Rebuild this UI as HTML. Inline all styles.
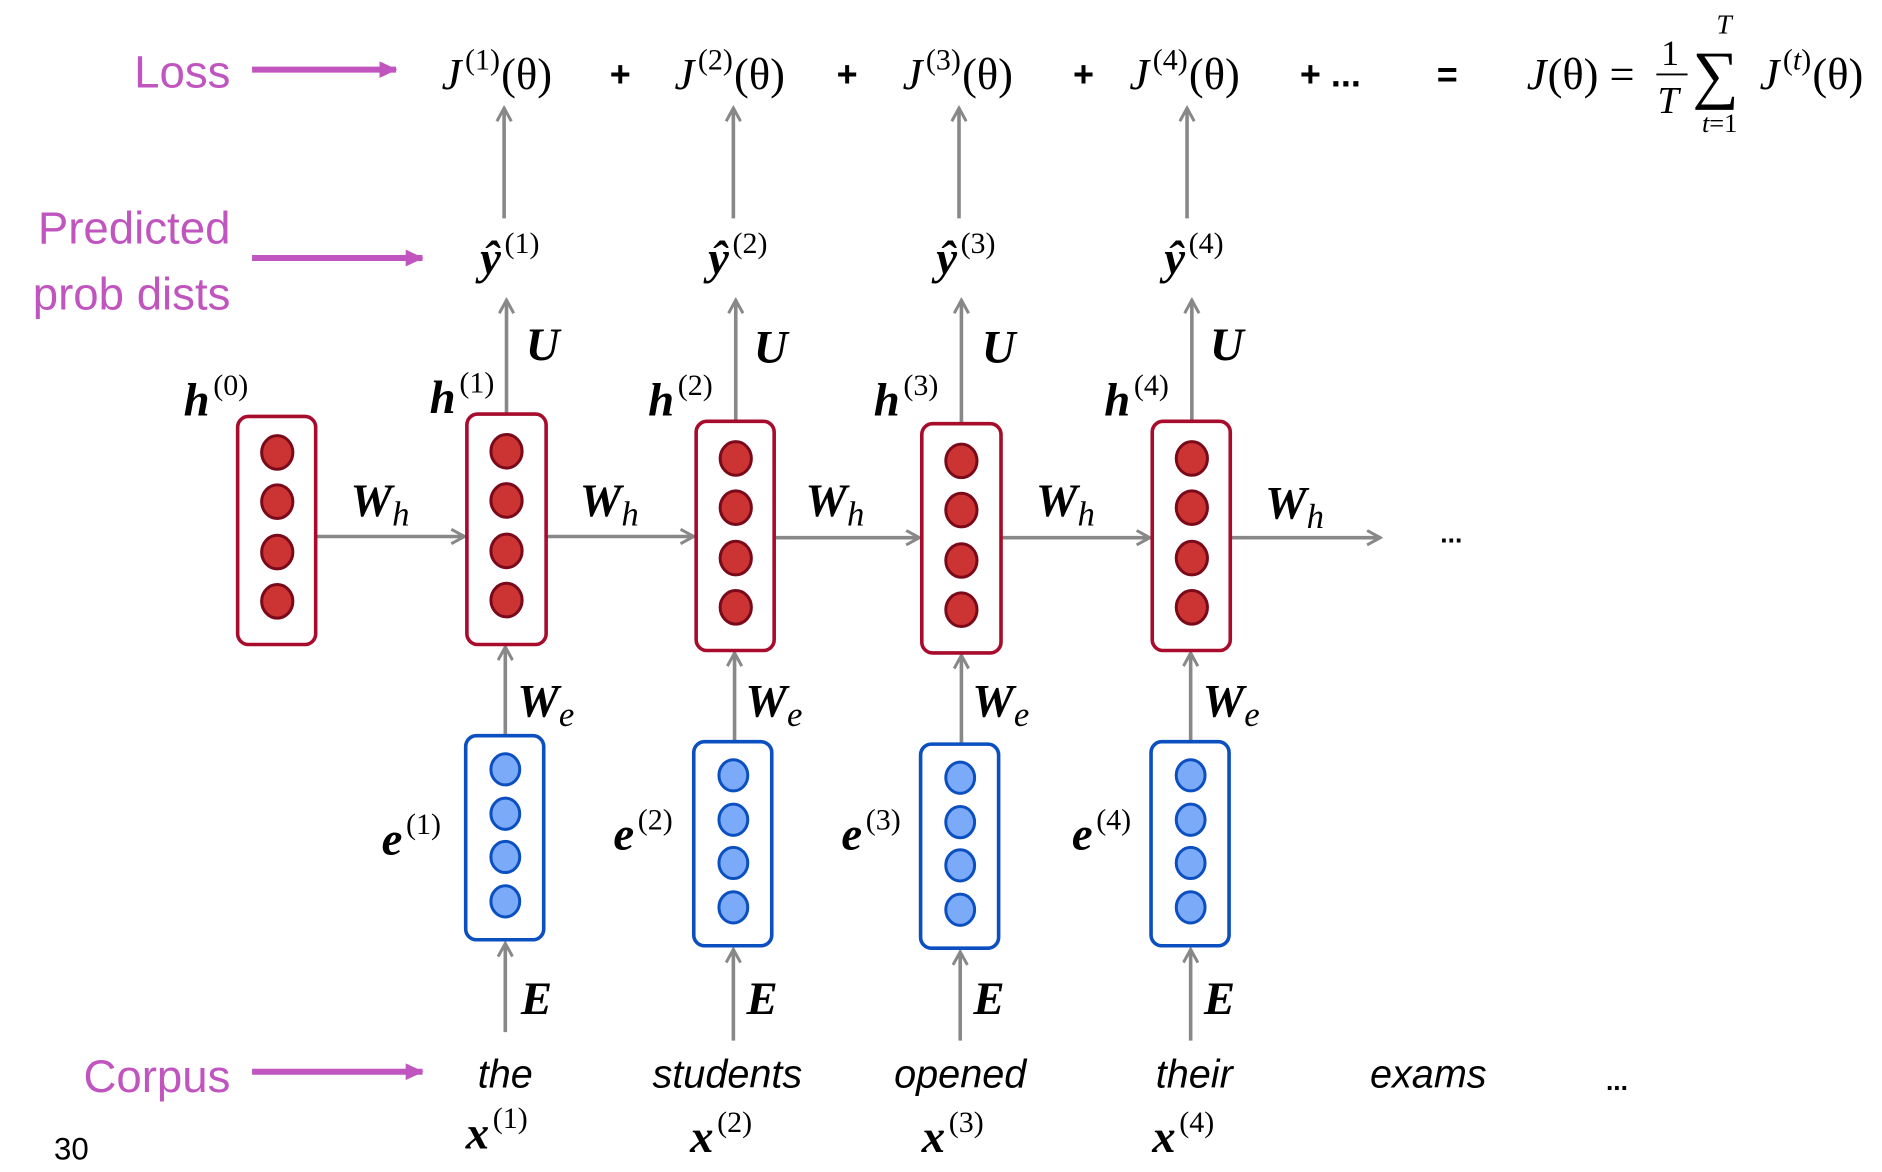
<!DOCTYPE html>
<html><head><meta charset="utf-8"><style>
html,body{margin:0;padding:0;background:#fff;}
svg{display:block;}
.m{font-family:"Liberation Serif",serif;font-style:italic;}
.b{font-weight:bold;}
.r{font-style:normal;}
.lab{font-family:"Liberation Sans",sans-serif;fill:#c055c0;font-size:38px;}
.w{font-family:"Liberation Sans",sans-serif;font-style:italic;font-size:33px;}
</style></head><body>
<svg width="1882" height="1172" viewBox="0 0 1568 976.5" preserveAspectRatio="none" xmlns="http://www.w3.org/2000/svg">
<defs>
<marker id="g" markerWidth="14" markerHeight="14" refX="12" refY="7" orient="auto" markerUnits="userSpaceOnUse"><path d="M1,1 L12,7 L1,13" fill="none" stroke="#888" stroke-width="2.5"/></marker>
<marker id="p" markerWidth="16" markerHeight="16" refX="14" refY="8" orient="auto" markerUnits="userSpaceOnUse"><path d="M0,1 L15,8 L0,15 Z" fill="#c055c0"/></marker>
</defs>
<text class="lab" x="192" y="73" text-anchor="end">Loss</text>
<text class="lab" x="192" y="203" text-anchor="end">Predicted</text>
<text class="lab" x="192" y="258" text-anchor="end">prob dists</text>
<text class="lab" x="192" y="910" text-anchor="end">Corpus</text>
<text x="45" y="966" font-family="Liberation Sans,sans-serif" font-size="26">30</text>
<g stroke="#c055c0" stroke-width="5" marker-end="url(#p)">
<line x1="210" y1="58" x2="330" y2="58"/>
<line x1="210" y1="215" x2="352" y2="215"/>
<line x1="210" y1="893" x2="352" y2="893"/>
</g>
<g class="m" font-size="37">
<text x="368" y="74">J<tspan class="r" font-size="25" dx="3" dy="-16">(1)</tspan><tspan class="r" dx="1" dy="16">(θ)</tspan></text>
<text x="562" y="74">J<tspan class="r" font-size="25" dx="3" dy="-16">(2)</tspan><tspan class="r" dx="1" dy="16">(θ)</tspan></text>
<text x="752" y="74">J<tspan class="r" font-size="25" dx="3" dy="-16">(3)</tspan><tspan class="r" dx="1" dy="16">(θ)</tspan></text>
<text x="941" y="74">J<tspan class="r" font-size="25" dx="3" dy="-16">(4)</tspan><tspan class="r" dx="1" dy="16">(θ)</tspan></text>
<text x="1272" y="74">J<tspan class="r" dx="1">(θ) =</tspan></text>
<text x="1384" y="54" class="r" font-size="30">1</text>
<line x1="1380" y1="62" x2="1406" y2="62" stroke="#000" stroke-width="1.5"/>
<text x="1381" y="94" font-size="32">T</text>
<text x="1410" y="80" class="r" font-size="54">∑</text>
<text x="1430" y="28" font-size="23">T</text>
<text x="1418" y="110" font-size="22">t<tspan class="r">=1</tspan></text>
<text x="1466" y="74">J<tspan class="r" font-size="25" dx="3" dy="-16">(</tspan><tspan font-size="25">t</tspan><tspan class="r" font-size="25">)</tspan><tspan class="r" dx="1" dy="16">(θ)</tspan></text>
</g>
<g font-family="Liberation Sans,sans-serif" font-weight="bold" font-size="30">
<text x="508" y="72">+</text><text x="697" y="72">+</text><text x="894" y="72">+</text>
<text x="1083" y="72">+ ...</text><text x="1197" y="72">=</text>
</g>
<g stroke="#888" stroke-width="3" marker-end="url(#g)" fill="none">
<line x1="420" y1="182" x2="420" y2="90"/><line x1="611" y1="182" x2="611" y2="90"/>
<line x1="799" y1="182" x2="799" y2="90"/><line x1="989" y1="182" x2="989" y2="90"/>
<line x1="422" y1="345" x2="422" y2="250"/><line x1="613" y1="351" x2="613" y2="250"/>
<line x1="801" y1="353" x2="801" y2="250"/><line x1="993" y1="351" x2="993" y2="250"/>
<line x1="263" y1="447" x2="387" y2="447"/><line x1="455" y1="447" x2="578" y2="447"/>
<line x1="645" y1="448" x2="766" y2="448"/><line x1="834" y1="448" x2="958" y2="448"/>
<line x1="1025" y1="448" x2="1150" y2="448"/>
<line x1="421" y1="613" x2="421" y2="539"/><line x1="612" y1="618" x2="612" y2="544"/>
<line x1="801" y1="620" x2="801" y2="546"/><line x1="992" y1="618" x2="992" y2="544"/>
<line x1="421" y1="860" x2="421" y2="786"/><line x1="611" y1="867" x2="611" y2="791"/>
<line x1="800" y1="867" x2="800" y2="793"/><line x1="992" y1="867" x2="992" y2="791"/>
</g>
<g class="m b" font-size="39">
<text x="400" y="228">ŷ<tspan class="r" font-weight="normal" font-size="25" dx="3" dy="-17">(1)</tspan></text>
<text x="590" y="228">ŷ<tspan class="r" font-weight="normal" font-size="25" dx="3" dy="-17">(2)</tspan></text>
<text x="780" y="228">ŷ<tspan class="r" font-weight="normal" font-size="25" dx="3" dy="-17">(3)</tspan></text>
<text x="970" y="228">ŷ<tspan class="r" font-weight="normal" font-size="25" dx="3" dy="-17">(4)</tspan></text>
<text x="438" y="300">U</text><text x="628" y="302">U</text><text x="818" y="302">U</text><text x="1008" y="300">U</text>
<text x="153" y="346">h<tspan class="r" font-weight="normal" font-size="25" dx="3" dy="-17">(0)</tspan></text>
<text x="358" y="344">h<tspan class="r" font-weight="normal" font-size="25" dx="3" dy="-17">(1)</tspan></text>
<text x="540" y="346">h<tspan class="r" font-weight="normal" font-size="25" dx="3" dy="-17">(2)</tspan></text>
<text x="728" y="346">h<tspan class="r" font-weight="normal" font-size="25" dx="3" dy="-17">(3)</tspan></text>
<text x="920" y="346">h<tspan class="r" font-weight="normal" font-size="25" dx="3" dy="-17">(4)</tspan></text>
<text x="292" y="430">W<tspan font-weight="normal" font-size="29" dy="8">h</tspan></text>
<text x="483" y="430">W<tspan font-weight="normal" font-size="29" dy="8">h</tspan></text>
<text x="671" y="430">W<tspan font-weight="normal" font-size="29" dy="8">h</tspan></text>
<text x="863" y="430">W<tspan font-weight="normal" font-size="29" dy="8">h</tspan></text>
<text x="1054" y="432">W<tspan font-weight="normal" font-size="29" dy="8">h</tspan></text>
<text x="431" y="597">W<tspan font-weight="normal" font-size="29" dy="8">e</tspan></text>
<text x="621" y="597">W<tspan font-weight="normal" font-size="29" dy="8">e</tspan></text>
<text x="810" y="597">W<tspan font-weight="normal" font-size="29" dy="8">e</tspan></text>
<text x="1002" y="597">W<tspan font-weight="normal" font-size="29" dy="8">e</tspan></text>
<text x="318" y="712">e<tspan class="r" font-weight="normal" font-size="25" dx="3" dy="-17">(1)</tspan></text>
<text x="511" y="708">e<tspan class="r" font-weight="normal" font-size="25" dx="3" dy="-17">(2)</tspan></text>
<text x="701" y="708">e<tspan class="r" font-weight="normal" font-size="25" dx="3" dy="-17">(3)</tspan></text>
<text x="893" y="708">e<tspan class="r" font-weight="normal" font-size="25" dx="3" dy="-17">(4)</tspan></text>
<text x="434" y="845">E</text><text x="622" y="845">E</text><text x="811" y="845">E</text><text x="1003" y="845">E</text>
<text x="388" y="957">x<tspan class="r" font-weight="normal" font-size="25" dx="3" dy="-17">(1)</tspan></text>
<text x="575" y="960">x<tspan class="r" font-weight="normal" font-size="25" dx="3" dy="-17">(2)</tspan></text>
<text x="768" y="960">x<tspan class="r" font-weight="normal" font-size="25" dx="3" dy="-17">(3)</tspan></text>
<text x="960" y="960">x<tspan class="r" font-weight="normal" font-size="25" dx="3" dy="-17">(4)</tspan></text>
</g>
<text x="1200" y="452" font-family="Liberation Sans,sans-serif" font-weight="bold" font-size="22">...</text>
<g class="w" text-anchor="middle">
<text x="421" y="906">the</text><text x="606" y="906">students</text><text x="800" y="906">opened</text>
<text x="995" y="906">their</text><text x="1190" y="906">exams</text>
</g>
<text x="1338" y="908" font-family="Liberation Sans,sans-serif" font-weight="bold" font-size="22">...</text>
<g fill="#fff" stroke="#a80c2c" stroke-width="3">
<rect x="198" y="347" width="65" height="190" rx="9"/>
<rect x="389" y="345" width="66" height="192" rx="9"/>
<rect x="580" y="351" width="65" height="191" rx="9"/>
<rect x="768" y="353" width="66" height="191" rx="9"/>
<rect x="960" y="351" width="65" height="191" rx="9"/>
</g>
<g fill="#cc3333" stroke="#7a0a1a" stroke-width="2.5">
<ellipse cx="231" cy="377" rx="13" ry="14"/><ellipse cx="231" cy="418" rx="13" ry="14"/><ellipse cx="231" cy="460" rx="13" ry="14"/><ellipse cx="231" cy="501" rx="13" ry="14"/>
<ellipse cx="422" cy="376" rx="13" ry="14"/><ellipse cx="422" cy="417" rx="13" ry="14"/><ellipse cx="422" cy="459" rx="13" ry="14"/><ellipse cx="422" cy="500" rx="13" ry="14"/>
<ellipse cx="613" cy="382" rx="13" ry="14"/><ellipse cx="613" cy="423" rx="13" ry="14"/><ellipse cx="613" cy="465" rx="13" ry="14"/><ellipse cx="613" cy="506" rx="13" ry="14"/>
<ellipse cx="801" cy="384" rx="13" ry="14"/><ellipse cx="801" cy="425" rx="13" ry="14"/><ellipse cx="801" cy="467" rx="13" ry="14"/><ellipse cx="801" cy="508" rx="13" ry="14"/>
<ellipse cx="993" cy="382" rx="13" ry="14"/><ellipse cx="993" cy="423" rx="13" ry="14"/><ellipse cx="993" cy="465" rx="13" ry="14"/><ellipse cx="993" cy="506" rx="13" ry="14"/>
</g>
<g fill="#fff" stroke="#0b4fc0" stroke-width="3">
<rect x="388" y="613" width="65" height="170" rx="9"/>
<rect x="578" y="618" width="65" height="170" rx="9"/>
<rect x="767" y="620" width="65" height="170" rx="9"/>
<rect x="959" y="618" width="65" height="170" rx="9"/>
</g>
<g fill="#7aaaf8" stroke="#0b4fc0" stroke-width="2.5">
<ellipse cx="421" cy="641" rx="12" ry="13"/><ellipse cx="421" cy="678" rx="12" ry="13"/><ellipse cx="421" cy="714" rx="12" ry="13"/><ellipse cx="421" cy="751" rx="12" ry="13"/>
<ellipse cx="611" cy="646" rx="12" ry="13"/><ellipse cx="611" cy="683" rx="12" ry="13"/><ellipse cx="611" cy="719" rx="12" ry="13"/><ellipse cx="611" cy="756" rx="12" ry="13"/>
<ellipse cx="800" cy="648" rx="12" ry="13"/><ellipse cx="800" cy="685" rx="12" ry="13"/><ellipse cx="800" cy="721" rx="12" ry="13"/><ellipse cx="800" cy="758" rx="12" ry="13"/>
<ellipse cx="992" cy="646" rx="12" ry="13"/><ellipse cx="992" cy="683" rx="12" ry="13"/><ellipse cx="992" cy="719" rx="12" ry="13"/><ellipse cx="992" cy="756" rx="12" ry="13"/>
</g>
</svg>
</body></html>
